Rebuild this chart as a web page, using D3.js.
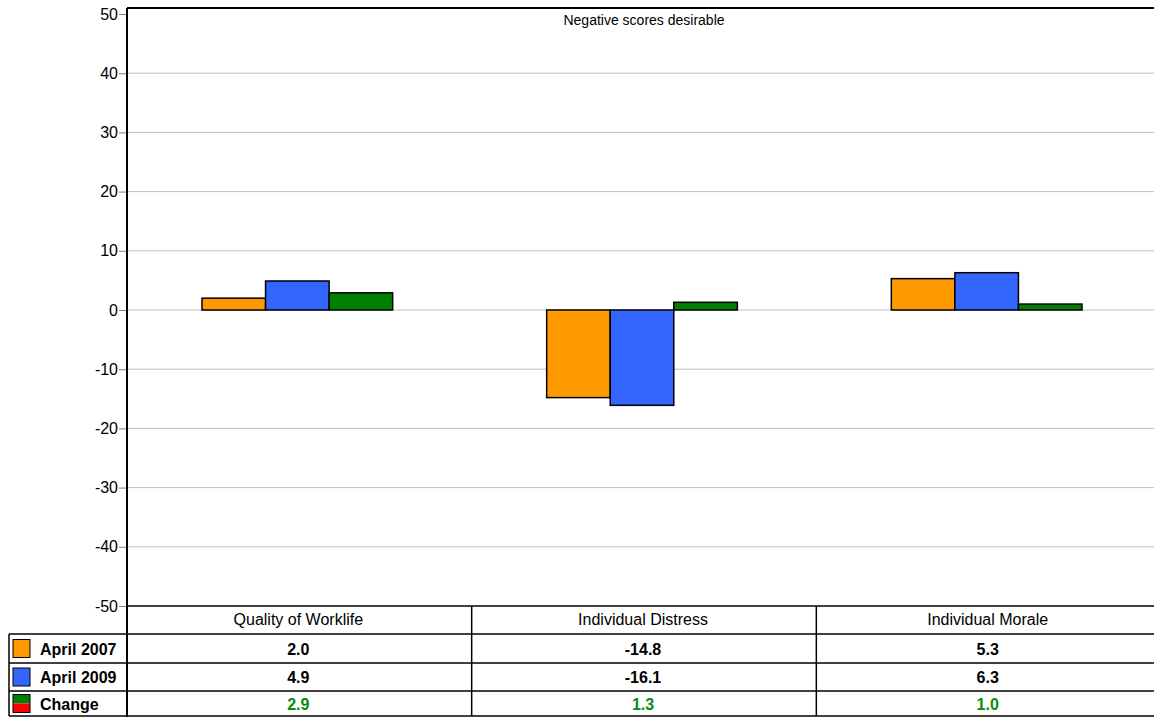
<!DOCTYPE html>
<html>
<head>
<meta charset="utf-8">
<script src="https://cdn.jsdelivr.net/npm/d3@7"></script>
<style>
    body { margin: 0; background: #fff; }
    svg { font-family: "Liberation Sans", Arial, sans-serif; }
</style>
</head>
<body>
<div id="grafico"></div>
<script>
// dados do gráfico
const categorias = ["Quality of Worklife", "Individual Distress", "Individual Morale"];
const series = ["April 2007", "April 2009", "Change"];
const abril2007 = [2.0, -14.8, 5.3];
const abril2009 = [4.9, -16.1, 6.3];
const mudanca = [2.9, 1.3, 1.0];
const ticksY = [-50, -40, -30, -20, -10, 0, 10, 20, 30, 40, 50];
const cores = ["#ff9900", "#3366ff", "#008000"];

const width = 1154;
const height = 717;

const svg = d3.select("#grafico")
    .append("svg")
    .attr("width", width)
    .attr("height", height);

const esquerda = 127;
const direita = 1161;
const topo = 8;

const y = d3.scaleLinear().domain([-50, 50]).range([606, 14]);
const x0 = d3.scaleBand().domain(categorias).range([esquerda, direita]);
const x1 = d3.scaleBand().domain(series).range([75, x0.bandwidth() - 79]);

// linhas de grade
svg.append("g")
    .selectAll("line")
    .data(ticksY.filter(t => t > -50 && t < 50))
    .enter()
    .append("line")
    .attr("x1", esquerda)
    .attr("x2", direita)
    .attr("y1", d => y(d))
    .attr("y2", d => y(d))
    .attr("stroke", "#c0c0c0")
    .attr("stroke-width", 1);

// eixo Y
const eixoY = svg.append("g")
    .attr("transform", `translate(${esquerda},0)`)
    .call(d3.axisLeft(y).tickValues(ticksY).tickFormat(d => String(d)).tickSize(8).tickPadding(1));
eixoY.select(".domain").remove();
eixoY.selectAll("line").attr("stroke", "#808080");
eixoY.selectAll("text")
    .attr("font-size", 16)
    .attr("font-family", "Liberation Sans, Arial, sans-serif")
    .attr("fill", "#000");

// barras
const valores = [abril2007, abril2009, mudanca];
const grupos = svg.append("g")
    .selectAll("g")
    .data(categorias)
    .enter()
    .append("g")
    .attr("transform", d => `translate(${x0(d)},0)`);

grupos.selectAll("rect")
    .data((d, i) => series.map((s, j) => ({ serie: s, valor: valores[j][i], cor: cores[j] })))
    .enter()
    .append("rect")
    .attr("x", d => x1(d.serie))
    .attr("width", x1.bandwidth())
    .attr("y", d => y(Math.max(0, d.valor)))
    .attr("height", d => Math.abs(y(d.valor) - y(0)))
    .attr("fill", d => d.cor)
    .attr("stroke", "#000")
    .attr("stroke-width", 1.5);

// moldura
svg.append("line")
    .attr("x1", esquerda).attr("x2", direita)
    .attr("y1", topo).attr("y2", topo)
    .attr("stroke", "#000").attr("stroke-width", 2);
svg.append("line")
    .attr("x1", esquerda).attr("x2", esquerda)
    .attr("y1", topo).attr("y2", height)
    .attr("stroke", "#000").attr("stroke-width", 2);

svg.append("text")
    .attr("x", 644)
    .attr("y", 25)
    .attr("text-anchor", "middle")
    .attr("font-size", 14)
    .text("Negative scores desirable");

// tabela de dados
const linhasY = [606, 634, 663, 691, 716];
svg.append("g")
    .selectAll("line")
    .data(linhasY)
    .enter()
    .append("line")
    .attr("x1", (d, i) => i === 0 ? esquerda : 9)
    .attr("x2", direita)
    .attr("y1", d => d)
    .attr("y2", d => d)
    .attr("stroke", "#000")
    .attr("stroke-width", 1.5);

svg.append("line")
    .attr("x1", 9).attr("x2", 9)
    .attr("y1", 634).attr("y2", 716)
    .attr("stroke", "#000").attr("stroke-width", 1.5);

svg.append("g")
    .selectAll("line")
    .data(categorias.slice(1))
    .enter()
    .append("line")
    .attr("x1", d => x0(d))
    .attr("x2", d => x0(d))
    .attr("y1", 606)
    .attr("y2", 716)
    .attr("stroke", "#000")
    .attr("stroke-width", 1.5);

svg.append("g")
    .selectAll("text")
    .data(categorias)
    .enter()
    .append("text")
    .attr("x", d => x0(d) + x0.bandwidth() / 2 - 1)
    .attr("y", 625)
    .attr("text-anchor", "middle")
    .attr("font-size", 16)
    .text(d => d);

// linhas da tabela com legenda
series.forEach((s, j) => {
    const yTopo = linhasY[j + 1];
    const yBase = linhasY[j + 2];
    const meio = (yTopo + yBase) / 2;

    if (j < 2) {
        svg.append("rect")
            .attr("x", 13).attr("y", meio - 9)
            .attr("width", 17).attr("height", 18)
            .attr("fill", cores[j])
            .attr("stroke", "#000").attr("stroke-width", 1);
    } else {
        svg.append("rect")
            .attr("x", 13).attr("y", meio - 9)
            .attr("width", 17).attr("height", 9)
            .attr("fill", "#008000");
        svg.append("rect")
            .attr("x", 13).attr("y", meio)
            .attr("width", 17).attr("height", 9)
            .attr("fill", "#ff0000");
        svg.append("rect")
            .attr("x", 13).attr("y", meio - 9)
            .attr("width", 17).attr("height", 18)
            .attr("fill", "none")
            .attr("stroke", "#000").attr("stroke-width", 1);
    }

    svg.append("text")
        .attr("x", 40)
        .attr("y", meio + 6)
        .attr("font-size", 16)
        .attr("font-weight", "bold")
        .text(s);

    svg.append("g")
        .selectAll("text")
        .data(categorias)
        .enter()
        .append("text")
        .attr("x", d => x0(d) + x0.bandwidth() / 2 - 1)
        .attr("y", meio + 6)
        .attr("text-anchor", "middle")
        .attr("font-size", 16)
        .attr("font-weight", "bold")
        .attr("fill", j === 2 ? "#0a8a0a" : "#000")
        .text((d, i) => valores[j][i].toFixed(1));
});
</script>
</body>
</html>
